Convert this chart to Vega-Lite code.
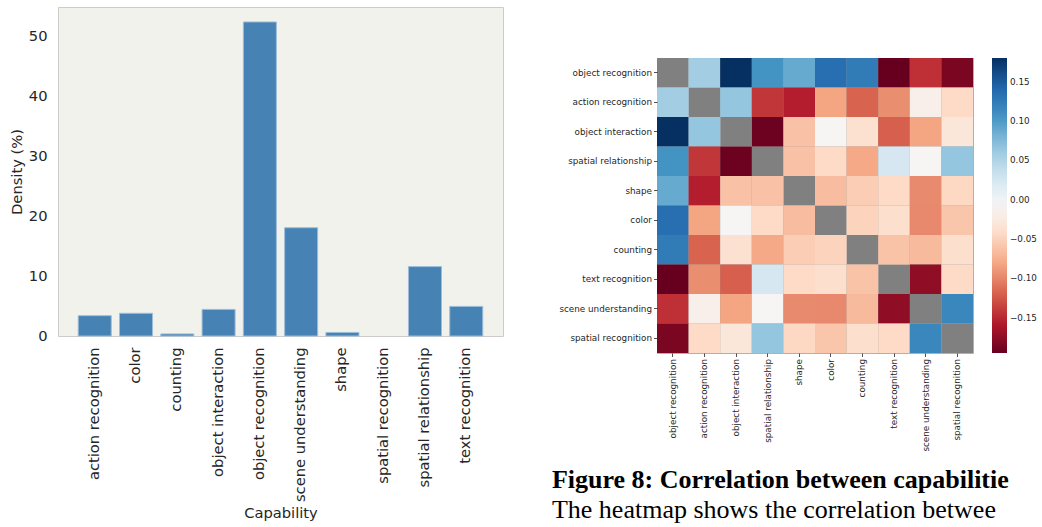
{
  "$schema": "https://vega.github.io/schema/vega-lite/v6.json",
  "background": "white",
  "padding": {"left": 8, "top": 6, "right": 0, "bottom": 0},
  "spacing": 47,
  "resolve": {"scale": {"color": "independent"}, "legend": {"color": "independent"}},
  "config": {
    "font": "DejaVu Sans",
    "axis": {"labelColor": "#262626", "titleColor": "#262626", "titleFontWeight": "normal", "grid": false}
  },
  "datasets": {
    "density": [
      {"capability": "action recognition", "density": 3.4},
      {"capability": "color", "density": 3.8},
      {"capability": "counting", "density": 0.35},
      {"capability": "object interaction", "density": 4.45},
      {"capability": "object recognition", "density": 52.5},
      {"capability": "scene understanding", "density": 18.1},
      {"capability": "shape", "density": 0.6},
      {"capability": "spatial recognition", "density": 0.0},
      {"capability": "spatial relationship", "density": 11.6},
      {"capability": "text recognition", "density": 4.95}
    ],
    "corr": [
      {"row": "object recognition", "object recognition": null, "action recognition": 0.058, "object interaction": 0.18, "spatial relationship": 0.105, "shape": 0.088, "color": 0.135, "counting": 0.125, "text recognition": -0.195, "scene understanding": -0.145, "spatial recognition": -0.185},
      {"row": "action recognition", "object recognition": 0.058, "action recognition": null, "object interaction": 0.066, "spatial relationship": -0.142, "shape": -0.155, "color": -0.082, "counting": -0.118, "text recognition": -0.095, "scene understanding": -0.018, "spatial recognition": -0.045},
      {"row": "object interaction", "object recognition": 0.18, "action recognition": 0.066, "object interaction": null, "spatial relationship": -0.192, "shape": -0.063, "color": -0.01, "counting": -0.038, "text recognition": -0.12, "scene understanding": -0.082, "spatial recognition": -0.03},
      {"row": "spatial relationship", "object recognition": 0.105, "action recognition": -0.142, "object interaction": -0.192, "spatial relationship": null, "shape": -0.063, "color": -0.045, "counting": -0.08, "text recognition": 0.025, "scene understanding": -0.01, "spatial recognition": 0.066},
      {"row": "shape", "object recognition": 0.088, "action recognition": -0.155, "object interaction": -0.063, "spatial relationship": -0.063, "shape": null, "color": -0.066, "counting": -0.055, "text recognition": -0.045, "scene understanding": -0.097, "spatial recognition": -0.047},
      {"row": "color", "object recognition": 0.135, "action recognition": -0.082, "object interaction": -0.01, "spatial relationship": -0.045, "shape": -0.066, "color": null, "counting": -0.05, "text recognition": -0.04, "scene understanding": -0.098, "spatial recognition": -0.06},
      {"row": "counting", "object recognition": 0.125, "action recognition": -0.118, "object interaction": -0.038, "spatial relationship": -0.08, "shape": -0.055, "color": -0.05, "counting": null, "text recognition": -0.062, "scene understanding": -0.068, "spatial recognition": -0.04},
      {"row": "text recognition", "object recognition": -0.195, "action recognition": -0.095, "object interaction": -0.12, "spatial relationship": 0.025, "shape": -0.045, "color": -0.04, "counting": -0.062, "text recognition": null, "scene understanding": -0.175, "spatial recognition": -0.045},
      {"row": "scene understanding", "object recognition": -0.145, "action recognition": -0.018, "object interaction": -0.082, "spatial relationship": -0.01, "shape": -0.097, "color": -0.098, "counting": -0.068, "text recognition": -0.175, "scene understanding": null, "spatial recognition": 0.115},
      {"row": "spatial recognition", "object recognition": -0.185, "action recognition": -0.045, "object interaction": -0.03, "spatial relationship": 0.066, "shape": -0.047, "color": -0.06, "counting": -0.04, "text recognition": -0.045, "scene understanding": 0.115, "spatial recognition": null}
    ]
  },
  "hconcat": [
    {
      "width": 445,
      "height": 329,
      "data": {"name": "density"},
      "view": {"fill": "#f2f2ed", "stroke": "#cccccc"},
      "mark": {"type": "bar", "color": "#4682b4", "stroke": "#9dbdda", "strokeWidth": 1},
      "encoding": {
        "x": {
          "field": "capability", "type": "nominal", "sort": null,
          "scale": {"paddingInner": 0.2, "paddingOuter": 0.49},
          "axis": {"title": "Capability", "labelAngle": -90, "ticks": false, "domain": false, "labelPadding": 11, "labelFontSize": 14.7, "titleFontSize": 14.7, "titlePadding": 4}
        },
        "y": {
          "field": "density", "type": "quantitative",
          "scale": {"domain": [0, 55], "nice": false},
          "axis": {"title": "Density (%)", "values": [0, 10, 20, 30, 40, 50], "ticks": false, "domain": false, "labelPadding": 11, "labelFontSize": 14.7, "titleFontSize": 14.7, "titlePadding": 4}
        },
        "strokeOpacity": {"condition": {"test": "datum.density > 0", "value": 1}, "value": 0}
      }
    },
    {
      "spacing": 0,
      "resolve": {"scale": {"color": "independent"}, "legend": {"color": "independent"}},
      "vconcat": [
        {
          "width": 316,
          "height": 50,
          "data": {"values": [{"t": ""}]},
          "view": {"stroke": null},
          "mark": {"type": "text"},
          "encoding": {"text": {"field": "t"}}
        },
        {
          "width": 316,
          "height": 295,
          "data": {"name": "corr"},
          "view": {"stroke": "#b0b0b0"},
          "transform": [{"fold": ["object recognition", "action recognition", "object interaction", "spatial relationship", "shape", "color", "counting", "text recognition", "scene understanding", "spatial recognition"], "as": ["col", "v"]}],
          "title": {
            "text": "Figure 8:  Correlation between capabilitie",
            "subtitle": "The heatmap shows the correlation betwee",
            "orient": "bottom", "anchor": "start", "frame": "bounds", "dx": -7,
            "font": "Liberation Serif", "fontSize": 26, "fontWeight": "bold", "color": "#000000",
            "subtitleFont": "Liberation Serif", "subtitleFontSize": 26, "subtitleFontWeight": "normal", "subtitleColor": "#000000",
            "offset": 16, "subtitlePadding": 4
          },
          "encoding": {
            "x": {
              "field": "col", "type": "nominal",
              "sort": ["object recognition", "action recognition", "object interaction", "spatial relationship", "shape", "color", "counting", "text recognition", "scene understanding", "spatial recognition"],
              "scale": {"paddingInner": 0, "paddingOuter": 0},
              "axis": {"title": null, "labelAngle": -90, "labelFontSize": 8.8, "tickSize": 3.5, "tickColor": "#262626", "tickWidth": 0.8, "labelPadding": 2, "domain": false}
            },
            "y": {
              "field": "row", "type": "nominal",
              "sort": ["object recognition", "action recognition", "object interaction", "spatial relationship", "shape", "color", "counting", "text recognition", "scene understanding", "spatial recognition"],
              "scale": {"paddingInner": 0, "paddingOuter": 0},
              "axis": {"title": null, "labelFontSize": 8.8, "tickSize": 3.5, "tickColor": "#262626", "tickWidth": 0.8, "labelPadding": 2, "domain": false}
            }
          },
          "layer": [
            {"mark": {"type": "rect", "color": "#808080"}},
            {
              "transform": [{"filter": "isValid(datum.v)"}],
              "mark": {"type": "rect"},
              "encoding": {
                "color": {
                  "field": "v", "type": "quantitative",
                  "scale": {
                    "domain": [-0.195, -0.1575, -0.12, -0.0825, -0.045, -0.0075, 0.03, 0.0675, 0.105, 0.1425, 0.18],
                    "range": ["#67001f", "#b2182b", "#d6604d", "#f4a582", "#fddbc7", "#f7f7f7", "#d1e5f0", "#92c5de", "#4393c3", "#2166ac", "#053061"],
                    "interpolate": "rgb"
                  },
                  "legend": {"title": null, "orient": "right", "offset": 19, "gradientLength": 295, "gradientThickness": 15, "gradientStrokeWidth": 0, "labelFontSize": 8.8, "labelColor": "#262626", "labelOffset": 3, "values": [-0.15, -0.1, -0.05, 0, 0.05, 0.1, 0.15], "format": ".2f", "padding": 0}
                }
              }
            }
          ]
        }
      ]
    }
  ]
}
